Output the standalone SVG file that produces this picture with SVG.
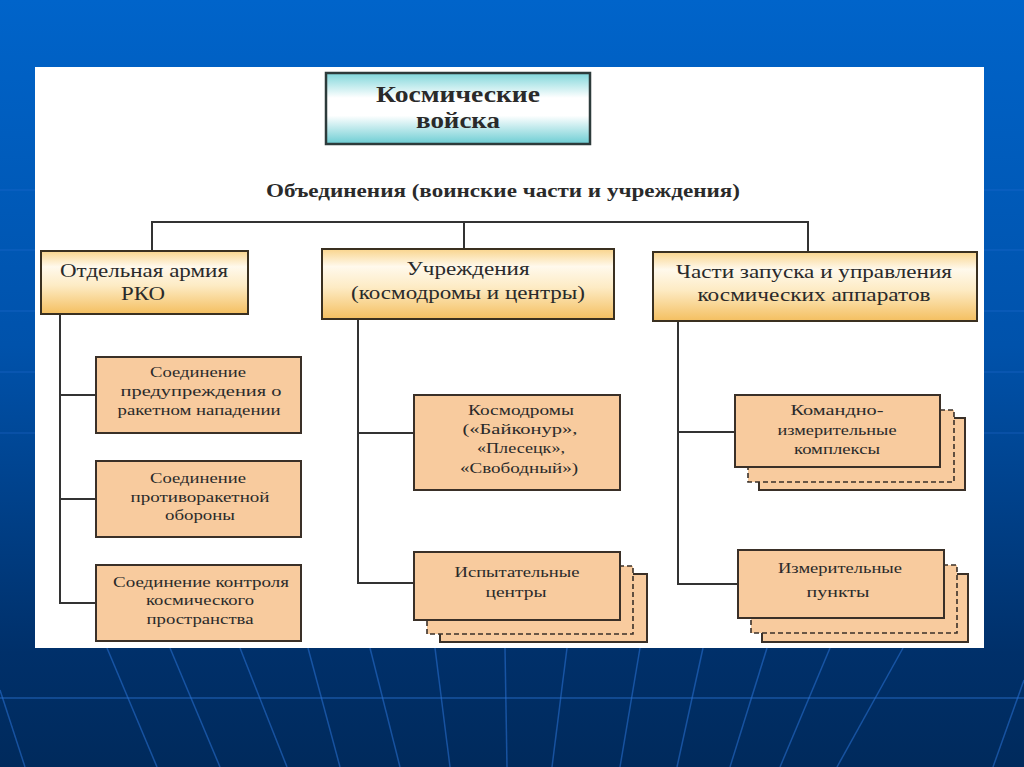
<svg xmlns="http://www.w3.org/2000/svg" width="1024" height="767" viewBox="0 0 1024 767">
<defs>
<linearGradient id="bg" x1="0" y1="0" x2="0" y2="1">
<stop offset="0" stop-color="#0064ca"/>
<stop offset="0.45" stop-color="#0052ab"/>
<stop offset="0.85" stop-color="#00306a"/>
<stop offset="1" stop-color="#002a5c"/>
</linearGradient>
<linearGradient id="cyan" x1="0" y1="0" x2="0" y2="1">
<stop offset="0" stop-color="#7fd6da"/>
<stop offset="0.35" stop-color="#ffffff"/>
<stop offset="0.6" stop-color="#ffffff"/>
<stop offset="1" stop-color="#6ccdd3"/>
</linearGradient>
<linearGradient id="gold" x1="0" y1="0" x2="0" y2="1">
<stop offset="0" stop-color="#f9d48c"/>
<stop offset="0.25" stop-color="#fff9ec"/>
<stop offset="0.55" stop-color="#fdebc4"/>
<stop offset="1" stop-color="#f4bf60"/>
</linearGradient>
<style>
.grid{stroke:#2a72d6;stroke-width:1.5;opacity:0.55;fill:none}
.hgrid{stroke:#2a72d6;stroke-width:1.5;opacity:0.3;fill:none}
.con{stroke:#333333;stroke-width:2;fill:none}
.l2{fill:url(#gold);stroke:#3a3020;stroke-width:2}
.box{fill:#f8cb9e;stroke:#3a3028;stroke-width:2}
.dash{fill:#f8cb9e;stroke:#3a3028;stroke-width:1.6;stroke-dasharray:5 3}
text{font-family:"Liberation Serif","Times New Roman",serif;text-anchor:middle;fill:#2a2a2a}
.s{font-size:15px}
.m{font-size:19px}
.b{font-weight:bold}
</style>
</defs>
<rect x="0" y="0" width="1024" height="767" fill="url(#bg)"/>
<g id="bg-grid">
<line class="hgrid" x1="0" y1="190" x2="1024" y2="190"/>
<line class="hgrid" x1="0" y1="250" x2="1024" y2="250"/>
<line class="hgrid" x1="0" y1="311" x2="1024" y2="311"/>
<line class="hgrid" x1="0" y1="372" x2="1024" y2="372"/>
<line class="hgrid" x1="0" y1="433" x2="1024" y2="433"/>
<line class="grid" x1="0" y1="698" x2="1024" y2="698"/>
<line class="grid" x1="107" y1="648" x2="157" y2="767"/>
<line class="grid" x1="170" y1="648" x2="220" y2="767"/>
<line class="grid" x1="240" y1="648" x2="287" y2="767"/>
<line class="grid" x1="308" y1="648" x2="340" y2="767"/>
<line class="grid" x1="370" y1="648" x2="400" y2="767"/>
<line class="grid" x1="435" y1="648" x2="450" y2="767"/>
<line class="grid" x1="505" y1="648" x2="507" y2="767"/>
<line class="grid" x1="567" y1="648" x2="552" y2="767"/>
<line class="grid" x1="640" y1="648" x2="620" y2="767"/>
<line class="grid" x1="703" y1="648" x2="677" y2="767"/>
<line class="grid" x1="767" y1="648" x2="730" y2="767"/>
<line class="grid" x1="830" y1="648" x2="780" y2="767"/>
<line class="grid" x1="903" y1="648" x2="837" y2="767"/>
<line class="grid" x1="1024" y1="680" x2="993" y2="767"/>
<line class="grid" x1="0" y1="690" x2="25" y2="767"/>
</g>
<rect x="35" y="67" width="949" height="581" fill="#ffffff"/>
<g id="connectors">
<polyline class="con" points="152,251 152,222 808,222 808,252"/>
<line class="con" x1="464" y1="222" x2="464" y2="249"/>
<polyline class="con" points="60,314 60,603 96,603"/>
<line class="con" x1="60" y1="395" x2="96" y2="395"/>
<line class="con" x1="60" y1="499" x2="96" y2="499"/>
<polyline class="con" points="358,319 358,583 414,583"/>
<line class="con" x1="358" y1="433" x2="414" y2="433"/>
<polyline class="con" points="678,321 678,584 738,584"/>
<line class="con" x1="678" y1="432" x2="735" y2="432"/>
</g>
<g id="n-space">
<rect x="326" y="73" width="264" height="71" fill="url(#cyan)" stroke="#2d3b3b" stroke-width="2.5"/>
<text class="b" x="458" y="102" font-size="23" textLength="164" lengthAdjust="spacingAndGlyphs">Космические</text>
<text class="b" x="458" y="128" font-size="23" textLength="84" lengthAdjust="spacingAndGlyphs">войска</text>
</g>
<g id="n-title">
<text class="b" x="503" y="197" font-size="18" textLength="474" lengthAdjust="spacingAndGlyphs">Объединения (воинские части и учреждения)</text>
</g>
<g id="n-rko">
<rect class="l2" x="41" y="251" width="207" height="63"/>
<text class="m" x="144" y="277" textLength="168" lengthAdjust="spacingAndGlyphs">Отдельная армия</text>
<text class="m" x="143" y="300" textLength="44" lengthAdjust="spacingAndGlyphs">РКО</text>
</g>
<g id="n-inst">
<rect class="l2" x="322" y="249" width="292" height="70"/>
<text class="m" x="468" y="275" textLength="123" lengthAdjust="spacingAndGlyphs">Учреждения</text>
<text class="m" x="468" y="299" textLength="234" lengthAdjust="spacingAndGlyphs">(космодромы и центры)</text>
</g>
<g id="n-launch">
<rect class="l2" x="653" y="252" width="324" height="69"/>
<text class="m" x="814" y="278" textLength="276" lengthAdjust="spacingAndGlyphs">Части запуска и управления</text>
<text class="m" x="814" y="301" textLength="233" lengthAdjust="spacingAndGlyphs">космических аппаратов</text>
</g>
<g id="n-warn">
<rect class="box" x="96" y="357" width="205" height="76"/>
<text class="s" x="198" y="377" textLength="96" lengthAdjust="spacingAndGlyphs">Соединение</text>
<text class="s" x="201" y="396" textLength="161" lengthAdjust="spacingAndGlyphs">предупреждения о</text>
<text class="s" x="199" y="415" textLength="163" lengthAdjust="spacingAndGlyphs">ракетном нападении</text>
</g>
<g id="n-pro">
<rect class="box" x="96" y="461" width="205" height="76"/>
<text class="s" x="198" y="483" textLength="96" lengthAdjust="spacingAndGlyphs">Соединение</text>
<text class="s" x="200" y="502" textLength="139" lengthAdjust="spacingAndGlyphs">противоракетной</text>
<text class="s" x="200" y="520" textLength="70" lengthAdjust="spacingAndGlyphs">обороны</text>
</g>
<g id="n-kkp">
<rect class="box" x="96" y="565" width="205" height="76"/>
<text class="s" x="201" y="587" textLength="176" lengthAdjust="spacingAndGlyphs">Соединение контроля</text>
<text class="s" x="200" y="605" textLength="108" lengthAdjust="spacingAndGlyphs">космического</text>
<text class="s" x="200" y="624" textLength="107" lengthAdjust="spacingAndGlyphs">пространства</text>
</g>
<g id="n-cosmodromes">
<rect class="box" x="414" y="395" width="206" height="95"/>
<text class="s" x="521" y="415" textLength="106" lengthAdjust="spacingAndGlyphs">Космодромы</text>
<text class="s" x="520" y="434" textLength="115" lengthAdjust="spacingAndGlyphs">(«Байконур»,</text>
<text class="s" x="521" y="453" textLength="88" lengthAdjust="spacingAndGlyphs">«Плесецк»,</text>
<text class="s" x="519" y="473" textLength="118" lengthAdjust="spacingAndGlyphs">«Свободный»)</text>
</g>
<g id="n-test">
<rect class="box" x="440" y="574" width="207" height="68"/>
<rect class="dash" x="427" y="566" width="206" height="68"/>
<rect class="box" x="414" y="552" width="206" height="68"/>
<text class="s" x="517" y="577" textLength="125" lengthAdjust="spacingAndGlyphs">Испытательные</text>
<text class="s" x="516" y="597" textLength="61" lengthAdjust="spacingAndGlyphs">центры</text>
</g>
<g id="n-kik">
<rect class="box" x="759" y="418" width="206" height="72"/>
<rect class="dash" x="748" y="410" width="206" height="72"/>
<rect class="box" x="735" y="395" width="205" height="72"/>
<text class="s" x="837" y="415" textLength="93" lengthAdjust="spacingAndGlyphs">Командно-</text>
<text class="s" x="837" y="435" textLength="119" lengthAdjust="spacingAndGlyphs">измерительные</text>
<text class="s" x="837" y="454" textLength="86" lengthAdjust="spacingAndGlyphs">комплексы</text>
</g>
<g id="n-ip">
<rect class="box" x="762" y="574" width="206" height="68"/>
<rect class="dash" x="751" y="565" width="206" height="68"/>
<rect class="box" x="738" y="550" width="206" height="68"/>
<text class="s" x="840" y="573" textLength="124" lengthAdjust="spacingAndGlyphs">Измерительные</text>
<text class="s" x="838" y="597" textLength="63" lengthAdjust="spacingAndGlyphs">пункты</text>
</g>
</svg>
